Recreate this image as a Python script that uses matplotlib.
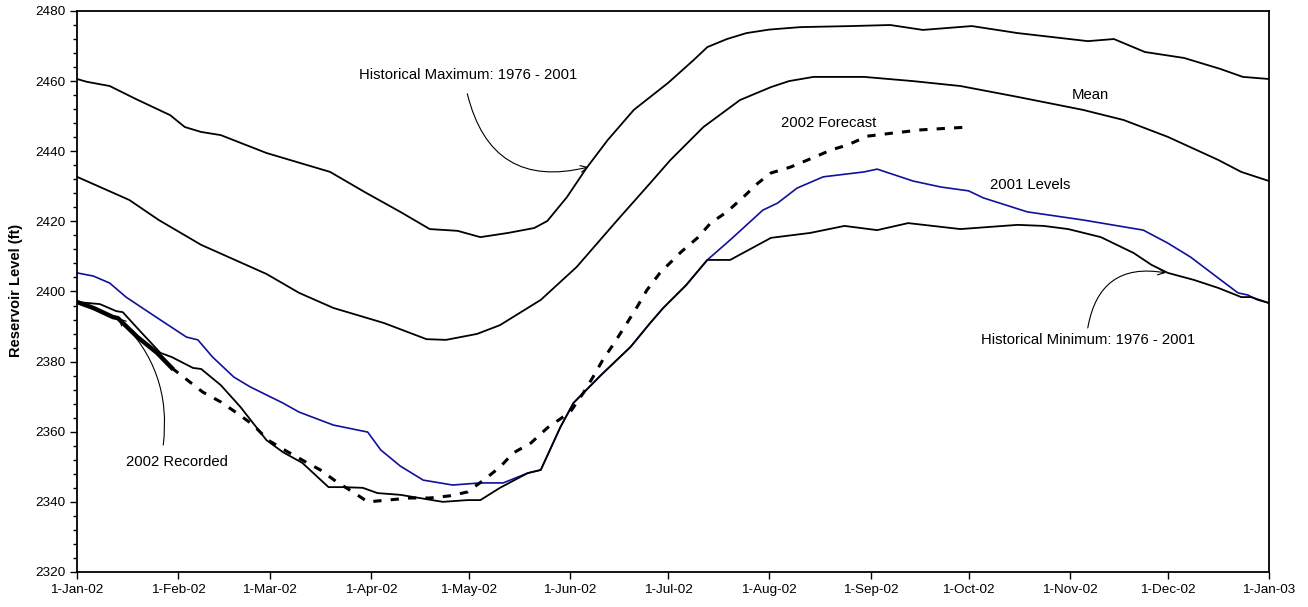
import numpy as np
import matplotlib
matplotlib.use("Agg")
import matplotlib.pyplot as plt
import matplotlib.dates as mdates
from matplotlib.ticker import MultipleLocator

plt.rcParams['font.family'] = ['Liberation Sans', 'DejaVu Sans']

# day offsets from 1-Jan-02, reservoir level (ft)
max_days = [0, 3, 10, 18, 28.5, 33, 38, 44, 58, 77.5, 88, 99, 108, 116.5, 123.5, 132, 140, 144,
            150, 156, 162.5, 170.5, 181, 188.8, 193, 199, 205, 212, 221.5, 237, 249, 259, 274, 288,
            309.5, 317.5, 327, 339, 350, 357, 365]
max_lvl = [2460.6, 2459.8, 2458.6, 2454.9, 2450.3, 2446.9, 2445.5, 2444.6, 2439.5, 2434.1, 2428.4,
           2422.7, 2417.8, 2417.3, 2415.5, 2416.7, 2418.1, 2420.1, 2426.9, 2435.2, 2443.2, 2451.8,
           2459.5, 2466.0, 2469.7, 2472.0, 2473.7, 2474.7, 2475.4, 2475.7, 2476.0, 2474.6, 2475.7,
           2473.7, 2471.4, 2472.0, 2468.3, 2466.6, 2463.5, 2461.2, 2460.6]

mean_days = [0, 16, 25, 38, 58, 68, 78.5, 94, 107, 113, 122.5, 129.5, 142, 153, 165.5, 175.5, 181.7,
             191.8, 203, 212.5, 218, 225.5, 241, 256, 270.5, 288, 308, 320.5, 334, 349.5, 356.5,
             365]
mean_lvl = [2432.7, 2426.1, 2420.4, 2413.3, 2405.0, 2399.6, 2395.3, 2391.0, 2386.4, 2386.2, 2387.9,
            2390.4, 2397.6, 2407.0, 2420.4, 2430.9, 2437.5, 2446.9, 2454.6, 2458.3, 2460.0, 2461.2,
            2461.2, 2460.0, 2458.6, 2455.5, 2451.8, 2448.9, 2444.1, 2437.5, 2434.1, 2431.5]

min_days = [0, 7, 12, 14, 19, 25.5, 29, 35.5, 38, 44, 50, 58, 63, 69, 77, 81.5, 87.5, 92, 99, 112,
            119.5, 123.5, 129.5, 138, 142, 148, 152, 160.5, 169.5, 175.5, 179.5, 186.5, 193, 200,
            212.5, 224.5, 235, 245, 254.5, 270.5, 288, 296, 303.5, 313.5, 323.5, 329, 334, 342,
            349.5, 356.5, 359.5, 365]
min_lvl = [2397.0, 2396.4, 2394.4, 2394.1, 2389.0, 2382.5, 2381.3, 2378.2, 2377.9, 2373.3, 2367.1,
           2357.6, 2354.2, 2351.1, 2344.2, 2344.2, 2344.0, 2342.5, 2342.0, 2340.0, 2340.5, 2340.5,
           2344.0, 2348.2, 2349.1, 2361.3, 2368.2, 2376.2, 2384.2, 2391.0, 2395.3, 2401.8, 2409.0,
           2409.0, 2415.3, 2416.7, 2418.7, 2417.5, 2419.5, 2417.8, 2419.0, 2418.7, 2417.8, 2415.5,
           2411.0, 2407.6, 2405.3, 2403.3, 2401.0, 2398.4, 2398.4, 2396.7]

lvl2001_days = [0, 5, 10, 15, 20, 25.5, 33.5, 37, 41.5, 48, 53, 63, 68, 78.5, 89, 93, 99, 106, 115,
                123.5, 130.5, 138, 142, 148, 152, 160.5, 169.5, 175.5, 179.5, 186.5, 193, 200,
                210, 214.5, 220.5, 228.5, 241, 245, 256, 264.5, 273, 277.5, 291, 308, 326.5, 334,
                341, 349.5, 355.5, 358.5, 361.5, 365]
lvl2001 = [2405.3, 2404.4, 2402.4, 2398.4, 2395.3, 2391.9, 2387.0, 2386.2, 2381.3, 2375.6, 2372.8,
           2368.2, 2365.6, 2361.9, 2359.9, 2354.8, 2350.2, 2346.2, 2344.8, 2345.4, 2345.4, 2348.2,
           2349.1, 2361.3, 2368.2, 2376.2, 2384.2, 2391.0, 2395.3, 2401.8, 2409.0, 2414.7,
           2423.2, 2425.2, 2429.5, 2432.7, 2434.1, 2434.9, 2431.5, 2429.8, 2428.7, 2426.7, 2422.7,
           2420.4, 2417.5, 2413.8, 2409.8, 2403.8, 2399.6, 2399.0, 2397.6, 2396.7]

rec_days = [0, 5, 11, 12.5, 18.5, 24.5, 29]
rec_lvl = [2397.0, 2395.3, 2392.7, 2392.4, 2387.0, 2382.5, 2378.2]

fc_days = [29, 33, 38.5, 44, 49, 54, 58.5, 63.5, 69, 74.5, 79.5, 85, 89, 95, 102, 108, 114, 119.5,
           124.5, 129.5, 133.5, 139, 144, 151, 155, 158, 161, 164.5, 168, 171.5, 174.5, 178.5,
           185, 190, 194, 199, 204, 208.5, 212.5, 218.5, 224.5, 231, 236, 242, 250, 258.5, 267.5,
           273]
fc_lvl = [2378.2, 2375.3, 2371.3, 2368.5, 2365.3, 2361.9, 2357.6, 2354.8, 2351.9, 2349.1, 2345.7,
          2342.5, 2340.0, 2340.5, 2341.1, 2341.1, 2341.7, 2342.8, 2346.2, 2349.9, 2353.9, 2356.8,
          2361.1, 2365.6, 2371.0, 2375.6, 2380.5, 2385.3, 2390.4, 2395.6, 2400.4, 2405.3, 2411.3,
          2415.3, 2419.5, 2422.7, 2426.9, 2430.9, 2433.8, 2435.5, 2437.8, 2440.4, 2441.8, 2444.3,
          2445.2, 2446.1, 2446.6, 2446.9]

t0 = mdates.date2num(np.datetime64('2002-01-01'))


def tx(days):
    return t0 + np.asarray(days, dtype=float)


fig = plt.figure(figsize=(13.08, 6.07), dpi=100)
ax = fig.add_axes([0.0589, 0.0577, 0.9113, 0.9242])

blue = '#10109a'
ax.plot(tx(lvl2001_days), lvl2001, color=blue, lw=1.2, zorder=2)
ax.plot(tx(max_days), max_lvl, color='black', lw=1.3, zorder=3)
ax.plot(tx(mean_days), mean_lvl, color='black', lw=1.3, zorder=3)
ax.plot(tx(min_days), min_lvl, color='black', lw=1.3, zorder=3)
ax.plot(tx(fc_days), fc_lvl, color='black', lw=2.2, ls=(0, (2.7, 3)), zorder=4)
ax.plot(tx(rec_days), rec_lvl, color='black', lw=3.2, zorder=5)

ax.set_xlim(t0, t0 + 365)
ax.set_ylim(2320, 2480)
ax.xaxis.set_major_locator(mdates.MonthLocator())
ax.xaxis.set_major_formatter(mdates.DateFormatter('%-d-%b-%y'))
ax.yaxis.set_major_locator(MultipleLocator(20))
ax.yaxis.set_minor_locator(MultipleLocator(4))
ax.tick_params(axis='both', which='major', direction='out', length=5, width=1.0, labelsize=9.7)
ax.tick_params(axis='y', which='minor', direction='out', length=3, width=1.0)
for s in ax.spines.values():
    s.set_linewidth(1.3)

fig.text(16 / 1308, 1 - 290 / 607, 'Reservoir Level (ft)', rotation=90, ha='center', va='center',
         fontsize=10.5, fontweight='bold')

fs = 10.7
arrow = dict(arrowstyle='->', color='black', lw=0.8, shrinkA=0, shrinkB=0,
             mutation_scale=12)

ax.text(tx(119.8), 2461.7, 'Historical Maximum: 1976 - 2001', ha='center', va='center', fontsize=fs)
ax.annotate('', xy=(tx(156.6), 2435.5), xytext=(tx(119.5), 2456.4),
            arrowprops=dict(arrow, connectionstyle='arc3,rad=0.5'))

ax.text(tx(310.4), 2456.0, 'Mean', ha='center', va='center', fontsize=fs)
ax.text(tx(230.2), 2448.0, '2002 Forecast', ha='center', va='center', fontsize=fs)
ax.text(tx(292.0), 2430.4, '2001 Levels', ha='center', va='center', fontsize=fs)

ax.text(tx(309.5), 2386.2, 'Historical Minimum: 1976 - 2001', ha='center', va='center', fontsize=fs)
ax.annotate('', xy=(tx(333.4), 2405.3), xytext=(tx(309.5), 2389.6),
            arrowprops=dict(arrow, connectionstyle='arc3,rad=-0.5'))

ax.text(tx(30.6), 2351.4, '2002 Recorded', ha='center', va='center', fontsize=fs)
ax.annotate('', xy=(tx(12.6), 2392.4), xytext=(tx(26.4), 2356.2),
            arrowprops=dict(arrow, connectionstyle='arc3,rad=0.25'))

fig.savefig('out.png', dpi=100)
